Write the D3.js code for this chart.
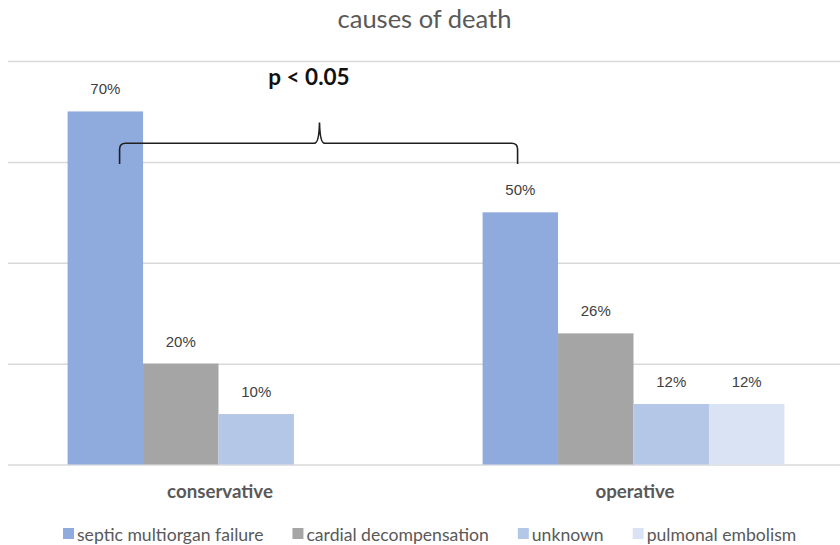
<!DOCTYPE html>
<html>
<head>
<meta charset="utf-8">
<script src="https://cdn.jsdelivr.net/npm/d3@7"></script>
<style>
  html, body { margin: 0; padding: 0; background: #ffffff; }
  svg { display: block; }
</style>
</head>
<body>
<svg id="chart" width="840" height="545"></svg>
<script>
// Causes of death by treatment group (percent of deaths)
const categories = ["conservative", "operative"];
const seriesNames = ["septic multiorgan failure", "cardial decompensation", "unknown", "pulmonal embolism"];
const septic = [70, 50];
const cardial = [20, 26];
const unknown = [10, 12];
const pulmonal = [null, 12];
const yTicks = [0, 20, 40, 60, 80];
const colors = ["#8faadc", "#a5a5a5", "#b4c7e7", "#dae3f3"];

const seriesValues = [septic, cardial, unknown, pulmonal];
const rows = categories.map((c, i) => ({
  category: c,
  values: seriesNames.map((s, j) => ({ series: s, value: seriesValues[j][i] }))
}));

const svg = d3.select("#chart");
const textFont = "Lato, 'Open Sans', sans-serif";
const numFont = "'Liberation Sans', Arial, sans-serif";

const x0 = d3.scaleBand().domain(categories).range([11, 841]).padding(0);
const x1 = d3.scaleBand().domain(seriesNames).range([0, x0.bandwidth()])
  .paddingInner(0).paddingOuter(0.75);
const y = d3.scaleLinear().domain([0, 80]).range([464.5, 61]);
const color = d3.scaleOrdinal().domain(seriesNames).range(colors);

// Title
svg.append("text")
  .attr("x", 424.5).attr("y", 28)
  .attr("text-anchor", "middle")
  .attr("font-family", textFont)
  .attr("font-size", 25.5)
  .attr("fill", "#595959")
  .text("causes of death");

// Horizontal gridlines
const gy = svg.append("g").attr("transform", "translate(840,0)")
  .call(d3.axisRight(y).tickValues(yTicks).tickSize(-832).tickFormat(""));
gy.select(".domain").remove();
gy.selectAll(".tick line").attr("stroke", "#d9d9d9").attr("stroke-width", 1.5);

// Bars
const groups = svg.append("g").selectAll("g")
  .data(rows).join("g")
  .attr("transform", d => `translate(${x0(d.category)},0)`);

const present = d => d.values.filter(v => v.value != null);

groups.selectAll("rect")
  .data(present).join("rect")
  .attr("x", d => x1(d.series))
  .attr("width", x1.bandwidth())
  .attr("y", d => y(d.value))
  .attr("height", d => y(0) - y(d.value))
  .attr("fill", d => color(d.series));

groups.selectAll("text.val")
  .data(present).join("text")
  .attr("class", "val")
  .attr("x", d => x1(d.series) + x1.bandwidth() / 2)
  .attr("y", d => y(d.value) - 17)
  .attr("text-anchor", "middle")
  .attr("font-family", numFont)
  .attr("font-size", 15)
  .attr("fill", "#404040")
  .text(d => d.value + "%");

// Category labels
svg.append("g").selectAll("text")
  .data(categories).join("text")
  .attr("x", d => x0(d) + x0.bandwidth() / 2 + 1.5)
  .attr("y", 498)
  .attr("text-anchor", "middle")
  .attr("font-family", textFont)
  .attr("font-weight", "bold")
  .attr("font-size", 18.7)
  .attr("fill", "#595959")
  .text(d => d);

// Significance brace between the two septic bars
const braceLeft = x0("conservative") + x1(seriesNames[0]) + 52;
const braceRight = x0("operative") + x1(seriesNames[0]) + 35;
const braceMid = 319.5;
const yBottom = y(59.6), yLine = y(63.7), yPeak = y(67.8);
const r = 6;
const brace = d3.path();
brace.moveTo(braceLeft, yBottom);
brace.lineTo(braceLeft, yLine + r);
brace.quadraticCurveTo(braceLeft, yLine, braceLeft + r, yLine);
brace.lineTo(braceMid - 5, yLine);
brace.quadraticCurveTo(braceMid - 0.5, yLine, braceMid, yPeak);
brace.quadraticCurveTo(braceMid + 0.5, yLine, braceMid + 5, yLine);
brace.lineTo(braceRight - r, yLine);
brace.quadraticCurveTo(braceRight, yLine, braceRight, yLine + r);
brace.lineTo(braceRight, yBottom);
svg.append("path")
  .attr("d", brace.toString())
  .attr("fill", "none")
  .attr("stroke", "#1f1f1f")
  .attr("stroke-width", 1.6);

svg.append("text")
  .attr("x", 309).attr("y", 85)
  .attr("text-anchor", "middle")
  .attr("font-family", textFont)
  .attr("font-weight", "bold")
  .attr("font-size", 22.5)
  .attr("fill", "#111111")
  .text("p < 0.05");

// Legend
const legend = svg.append("g");
const items = legend.selectAll("g").data(seriesNames).join("g");
items.append("rect")
  .attr("width", 11).attr("height", 11)
  .attr("y", 528)
  .attr("fill", d => color(d));
items.append("text")
  .attr("y", 541)
  .attr("font-family", textFont)
  .attr("font-size", 17.6)
  .attr("fill", "#595959")
  .text(d => d);
// lay out items left to right with fixed gaps
const gap = 29;
let cx = 63;
items.each(function () {
  const g = d3.select(this);
  g.select("rect").attr("x", cx);
  const t = g.select("text").attr("x", cx + 14);
  cx += 14 + t.node().getComputedTextLength() + gap;
});
</script>
</body>
</html>
